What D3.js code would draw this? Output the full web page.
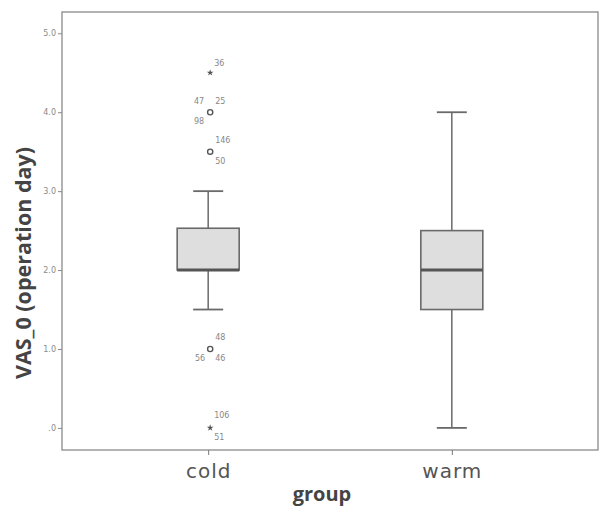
<!DOCTYPE html>
<html>
<head>
<meta charset="utf-8">
<script src="https://cdn.jsdelivr.net/npm/d3@7"></script>
<style>
  body { margin: 0; background: #fff; }
</style>
</head>
<body>
<div id="chart"></div>
<script>
// groups and five-number summaries
const groups     = ["cold", "warm"];
const whiskerLow = [1.5, 0.0];
const q1         = [2.0, 1.5];
const median     = [2.0, 2.0];
const q3         = [2.53, 2.5];
const whiskerHigh = [3.0, 4.0];

// outliers: group, value, kind (circle = outlier, star = extreme), case ids
const outlierGroup = ["cold", "cold", "cold", "cold", "cold"];
const outlierValue = [4.5, 4.0, 3.5, 1.0, 0.0];
const outlierKind  = ["star", "circle", "circle", "circle", "star"];
const outlierIds   = [["36"], ["47", "25", "98"], ["146", "50"], ["48", "56", "46"], ["106", "51"]];

const yTicks = [0, 1, 2, 3, 4, 5];

const width = 600, height = 507;
const margin = {top: 12, right: 2, bottom: 57, left: 62};

const svg = d3.select("#chart").append("svg")
    .attr("width", width)
    .attr("height", height);

const x = d3.scalePoint()
    .domain(groups)
    .range([margin.left, width - margin.right])
    .padding(0.6);

const y = d3.scaleLinear()
    .domain([-0.28, 5.27])
    .range([height - margin.bottom, margin.top]);

const ink = "#6a6a6a";

//////////////
/// Frame ///
//////////////

svg.append("rect")
    .attr("x", margin.left)
    .attr("y", margin.top)
    .attr("width", width - margin.left - margin.right)
    .attr("height", height - margin.top - margin.bottom)
    .attr("fill", "none")
    .attr("stroke", "#8a8a8a")
    .attr("stroke-width", 1.3);

//////////////
/// Axes ///
//////////////

const fmt = v => d3.format(".1f")(v).replace(/^0\./, ".");

const yAxis = svg.append("g")
    .attr("transform", "translate(" + margin.left + ",0)")
    .call(d3.axisLeft(y).tickValues(yTicks).tickFormat(fmt).tickSize(4).tickPadding(2));
yAxis.select(".domain").remove();
yAxis.selectAll("line").attr("stroke", "#8a8a8a");
yAxis.selectAll("text")
    .attr("fill", "#8a8a8a")
    .style("font-family", "DejaVu Sans")
    .style("font-size", "8px");

const xAxis = svg.append("g")
    .attr("transform", "translate(0," + (height - margin.bottom) + ")")
    .call(d3.axisBottom(x).tickSize(5).tickPadding(9));
xAxis.select(".domain").remove();
xAxis.selectAll("line").attr("stroke", "#777");
xAxis.selectAll("text")
    .attr("fill", "#555")
    .style("font-family", "DejaVu Sans")
    .style("font-size", "20px")
    .style("letter-spacing", "1px");

svg.append("text")
    .attr("x", 322)
    .attr("y", 501)
    .attr("text-anchor", "middle")
    .attr("fill", "#444")
    .style("font-family", "Open Sans")
    .style("font-weight", "bold")
    .style("font-size", "20px")
    .text("group");

svg.append("text")
    .attr("transform", "translate(31,263) rotate(-90)")
    .attr("text-anchor", "middle")
    .attr("fill", "#444")
    .style("font-family", "Open Sans")
    .style("font-weight", "bold")
    .style("font-size", "21.5px")
    .text("VAS_0 (operation day)");

//////////////
/// Boxes ///
//////////////

const boxW = 62, capW = 30;

groups.forEach((g, i) => {
    const cx = x(g);
    const box = svg.append("g");

    box.append("line")
        .attr("x1", cx).attr("x2", cx)
        .attr("y1", y(whiskerHigh[i])).attr("y2", y(q3[i]))
        .attr("stroke", ink).attr("stroke-width", 1.5);
    box.append("line")
        .attr("x1", cx).attr("x2", cx)
        .attr("y1", y(q1[i])).attr("y2", y(whiskerLow[i]))
        .attr("stroke", ink).attr("stroke-width", 1.5);

    [whiskerHigh[i], whiskerLow[i]].forEach(v => {
        box.append("line")
            .attr("x1", cx - capW / 2).attr("x2", cx + capW / 2)
            .attr("y1", y(v)).attr("y2", y(v))
            .attr("stroke", ink).attr("stroke-width", 1.8);
    });

    box.append("rect")
        .attr("x", cx - boxW / 2)
        .attr("y", y(q3[i]))
        .attr("width", boxW)
        .attr("height", y(q1[i]) - y(q3[i]))
        .attr("fill", "#dedede")
        .attr("stroke", ink)
        .attr("stroke-width", 1.6);

    box.append("line")
        .attr("x1", cx - boxW / 2).attr("x2", cx + boxW / 2)
        .attr("y1", y(median[i])).attr("y2", y(median[i]))
        .attr("stroke", "#555").attr("stroke-width", 3);
});

/////////////////
/// Outliers ///
/////////////////

// label slots around each point, in the order the ids are listed
const slots = [
    [[4, -7, "start"]],
    [[-6, -8, "end"], [5, -8, "start"], [-6, 12, "end"]],
    [[5, -9, "start"], [5, 12, "start"]],
    [[5, -9, "start"], [-5, 12, "end"], [5, 12, "start"]],
    [[4, -10, "start"], [4, 12, "start"]]
];

const star = d3.symbol().type(d3.symbolStar).size(14);

outlierValue.forEach((v, i) => {
    const cx = x(outlierGroup[i]) + 2;
    const cy = y(v);
    if (outlierKind[i] === "circle") {
        svg.append("circle")
            .attr("cx", cx).attr("cy", cy).attr("r", 2.6)
            .attr("fill", "none")
            .attr("stroke", "#555")
            .attr("stroke-width", 1.4);
    } else {
        svg.append("path")
            .attr("transform", "translate(" + cx + "," + cy + ")")
            .attr("d", star)
            .attr("fill", "#555");
    }
    outlierIds[i].forEach((id, k) => {
        const s = slots[i][k];
        svg.append("text")
            .attr("x", cx + s[0])
            .attr("y", cy + s[1])
            .attr("text-anchor", s[2])
            .attr("fill", "#888")
            .style("font-family", "DejaVu Sans")
            .style("font-size", "8px")
            .text(id);
    });
});
</script>
</body>
</html>
